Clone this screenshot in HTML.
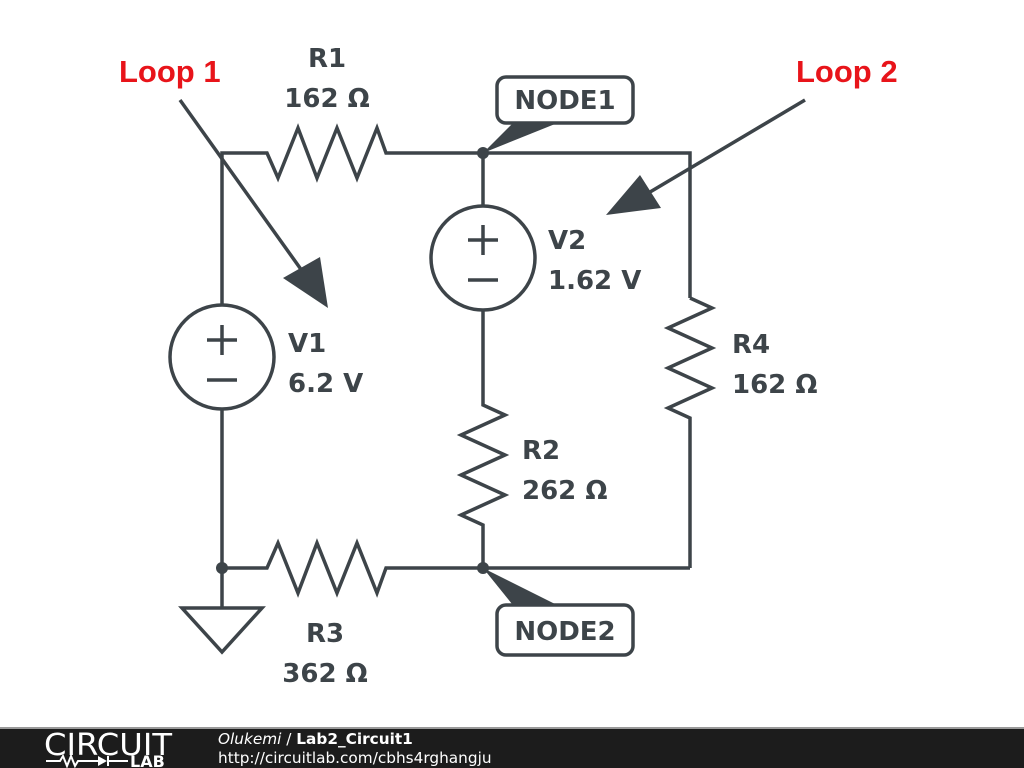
<!DOCTYPE html>
<html><head><style>
body{margin:0;width:1024px;height:768px;overflow:hidden;background:#fff;font-family:"Liberation Sans","DejaVu Sans",sans-serif}
</style></head><body>
<svg width="1024" height="768" viewBox="0 0 1024 768" xmlns="http://www.w3.org/2000/svg" style="position:absolute;left:0;top:0">
<g fill="none" stroke="#3d4449" stroke-width="3.5" stroke-linejoin="miter">
<polyline points="222,305 222,153 267,153 278,178 298,128 317,178 337,128 357,178 377,128 386,153 690,153 690,298"/>
<polyline points="690,298 712,308 668,328 712,348 668,368 712,388 668,408 690,418 690,568"/>
<polyline points="222,410 222,608"/>
<polyline points="222,568 267,568 278,543 298,593 317,543 337,593 357,543 377,593 386,568 690,568"/>
<polyline points="483,153 483,206"/>
<polyline points="483,310 483,405 505,415 461,435 505,455 461,475 505,495 461,515 483,525 483,568"/>
<circle cx="483" cy="258" r="52"/>
<circle cx="222" cy="357" r="52"/>
<polygon points="182,608 262,608 222,652"/>
<path d="M468,240 H498 M483,225 V255 M468,280 H498"/>
<path d="M207,340 H237 M222,325 V355 M207,380 H237"/>
<line x1="180" y1="100" x2="305" y2="275"/>
<line x1="805" y1="100" x2="645" y2="195"/>
<rect x="497" y="77" width="136" height="46" rx="9"/>
<rect x="497" y="605" width="136" height="50" rx="9"/>
</g>
<g fill="#3d4449">
<circle cx="483" cy="153" r="6"/><circle cx="483" cy="568" r="6"/><circle cx="222" cy="568" r="6"/>
<polygon points="328,308 283,278 320,257"/>
<polygon points="606,215 640,175 661,208"/>
<polygon points="483,153 512,124 555,124"/>
<polygon points="483,568 512,604 555,604"/>
</g>
<g font-weight="bold" font-size="26" fill="#3d4449" font-family="DejaVu Sans, sans-serif">
<text x="327" y="67" text-anchor="middle">R1</text>
<text x="327" y="107" text-anchor="middle">162 Ω</text>
<text x="288" y="352">V1</text><text x="288" y="392">6.2 V</text>
<text x="548" y="249">V2</text><text x="548" y="289">1.62 V</text>
<text x="732" y="353">R4</text><text x="732" y="393">162 Ω</text>
<text x="522" y="459">R2</text><text x="522" y="499">262 Ω</text>
<text x="325" y="642" text-anchor="middle">R3</text><text x="325" y="682" text-anchor="middle">362 Ω</text>
<text x="565" y="109" text-anchor="middle">NODE1</text>
<text x="565" y="640" text-anchor="middle">NODE2</text>
</g>
<g font-weight="bold" font-size="31" fill="#e8141a">
<text x="119" y="82">Loop 1</text>
<text x="796" y="82">Loop 2</text>
</g>
<rect x="0" y="728" width="1024" height="40" fill="#1c1c1c"/>
<rect x="0" y="727" width="1024" height="2" fill="#999"/>
<text x="44" y="755" font-size="30" fill="#fff" font-family="DejaVu Sans, sans-serif" font-weight="normal" textLength="128" lengthAdjust="spacingAndGlyphs">CIRCUIT</text>
<g stroke="#fff" stroke-width="2" fill="none"><polyline points="46,761 60,761 63,756 67,766 71,756 75,766 78,761 98,761"/><line x1="108" y1="756" x2="108" y2="766"/><line x1="108" y1="761" x2="128" y2="761"/></g>
<polygon points="98,756 98,766 107,761" fill="#fff"/>
<text x="130" y="767" font-size="16" font-weight="bold" fill="#fff" font-family="DejaVu Sans, sans-serif">LAB</text>
<g font-family="DejaVu Sans, sans-serif" font-size="15.3" fill="#fff">
<text x="218" y="744"><tspan font-style="italic">Olukemi</tspan> / <tspan font-weight="bold">Lab2_Circuit1</tspan></text>
<text x="218" y="763">http://circuitlab.com/cbhs4rghangju</text>
</g>
</svg>
</body></html>
